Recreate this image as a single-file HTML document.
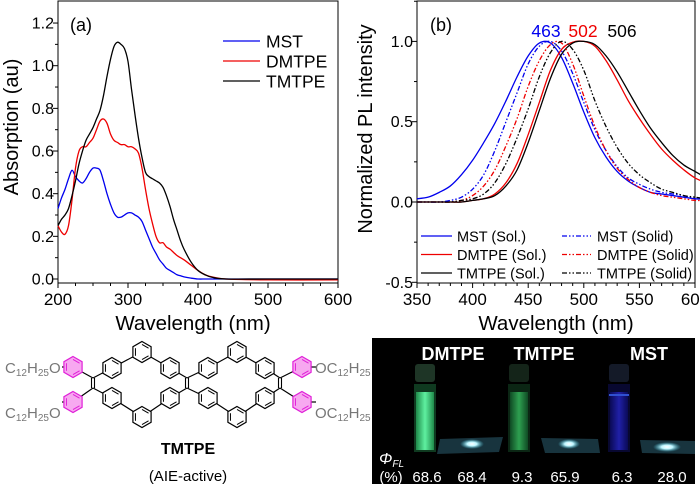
<!DOCTYPE html>
<html><head><meta charset="utf-8"><style>
html,body{margin:0;padding:0;background:#fff;}
svg{display:block;font-family:"Liberation Sans",Arial,sans-serif;}
</style></head><body>
<svg id="fig" width="700" height="485" viewBox="0 0 700 485">
<defs>
<linearGradient id="gvial" x1="0" x2="1"><stop offset="0" stop-color="#1f8a4a"/><stop offset="0.5" stop-color="#5ff0a0"/><stop offset="1" stop-color="#1f8a4a"/></linearGradient>
<linearGradient id="gvial2" x1="0" x2="1"><stop offset="0" stop-color="#0f4a24"/><stop offset="0.5" stop-color="#2ea050"/><stop offset="1" stop-color="#0f4a24"/></linearGradient>
<linearGradient id="bvial" x1="0" x2="1"><stop offset="0" stop-color="#0a0a55"/><stop offset="0.5" stop-color="#2020a8"/><stop offset="1" stop-color="#0a0a55"/></linearGradient>
<radialGradient id="glow"><stop offset="0" stop-color="#ffffff"/><stop offset="0.4" stop-color="#bff6ff"/><stop offset="1" stop-color="#3ab0c8" stop-opacity="0"/></radialGradient>
</defs>
<g id="chartA"></g>
<g id="chartB"></g>
<g id="mol"></g>
<g id="photo">
  <rect x="372" y="338" width="323" height="146" fill="#000"/>
  <text x="453" y="360" font-size="18" font-weight="bold" fill="#fff" text-anchor="middle">DMTPE</text>
  <text x="544" y="360" font-size="18" font-weight="bold" fill="#fff" text-anchor="middle">TMTPE</text>
  <text x="649" y="360" font-size="18" font-weight="bold" fill="#fff" text-anchor="middle">MST</text>
  <g>
    <rect x="415" y="364" width="20" height="18" rx="3" fill="#1e3526"/>
    <rect x="414" y="384" width="22" height="68" fill="#0f3a20"/>
    <rect x="416" y="392" width="18" height="58" fill="url(#gvial)"/>
  </g>
  <g>
    <rect x="509" y="364" width="20" height="18" rx="3" fill="#142419"/>
    <rect x="508" y="384" width="22" height="68" fill="#0b2614"/>
    <rect x="510" y="392" width="18" height="58" fill="url(#gvial2)"/>
  </g>
  <g>
    <rect x="609" y="364" width="20" height="18" rx="3" fill="#141a28"/>
    <rect x="608" y="384" width="22" height="68" fill="#080830"/>
    <rect x="610" y="392" width="18" height="58" fill="url(#bvial)"/>
    <rect x="609" y="394" width="20" height="2" fill="#3050d0"/>
  </g>
  <polygon points="440,439 503,437 499,452 437,454" fill="#18343e"/>
  <ellipse cx="472" cy="444" rx="12" ry="5" fill="url(#glow)"/>
  <polygon points="541,438 598,439 600,453 545,453" fill="#18343e"/>
  <ellipse cx="569" cy="444" rx="11" ry="5" fill="url(#glow)"/>
  <polygon points="640,440 695,441 695,454 642,453" fill="#18343e"/>
  <ellipse cx="667" cy="447" rx="14" ry="5" fill="url(#glow)"/>
  <text x="379" y="464" font-size="16" font-style="italic" fill="#fff">Φ<tspan font-size="10" dy="3">FL</tspan></text>
  <g font-size="15" fill="#fff" text-anchor="middle">
    <text x="391" y="482">(%)</text>
    <text x="427" y="482">68.6</text>
    <text x="472" y="482">68.4</text>
    <text x="522" y="482">9.3</text>
    <text x="565" y="482">65.9</text>
    <text x="622" y="482">6.3</text>
    <text x="672" y="482">28.0</text>
  </g>
</g>
</svg>
<script>
const NS="http://www.w3.org/2000/svg";
// ---- Chart (a) data ----
const absWl=[200,205,210,215,220,225,230,235,240,245,250,255,260,265,270,275,280,285,290,295,300,305,310,315,320,325,330,335,340,345,350,355,360,365,370,375,380,390,400,410,420,440,500,600];
const absMST=[0.33,0.38,0.42,0.47,0.51,0.48,0.46,0.45,0.47,0.50,0.52,0.52,0.51,0.46,0.40,0.35,0.31,0.29,0.29,0.30,0.31,0.31,0.30,0.29,0.27,0.23,0.19,0.15,0.12,0.09,0.07,0.05,0.04,0.03,0.02,0.015,0.01,0.004,0,0,0,0,0,0];
const absDMTPE=[0.25,0.22,0.21,0.25,0.37,0.52,0.60,0.62,0.62,0.64,0.66,0.70,0.74,0.75,0.73,0.68,0.65,0.64,0.63,0.63,0.62,0.62,0.61,0.59,0.52,0.42,0.33,0.26,0.20,0.17,0.17,0.15,0.14,0.125,0.11,0.10,0.09,0.065,0.04,0.02,0.01,0,-0.004,-0.004];
const absTMTPE=[0.25,0.28,0.30,0.33,0.39,0.46,0.54,0.60,0.65,0.68,0.71,0.75,0.79,0.86,0.95,1.03,1.09,1.11,1.10,1.08,1.02,0.89,0.77,0.66,0.57,0.50,0.48,0.47,0.46,0.45,0.43,0.39,0.34,0.28,0.23,0.18,0.14,0.08,0.04,0.02,0.008,0,0,0];
const absXTicks=[200,300,400,500,600];
const absYTicks=[0.0,0.2,0.4,0.6,0.8,1.0,1.2];
// ---- Chart (b) data ----
const plWl=[350,360,370,380,390,400,410,420,430,440,450,460,470,480,490,500,510,520,530,540,550,560,570,580,590,600,610];
const plMSTsol=[0.02,0.03,0.06,0.10,0.17,0.26,0.37,0.49,0.63,0.78,0.91,0.99,0.99,0.90,0.74,0.56,0.40,0.28,0.19,0.13,0.09,0.06,0.05,0.04,0.03,0.02,0.02];
const plDMTPEsol=[0,0,0,0,0,0.01,0.02,0.05,0.12,0.24,0.42,0.62,0.82,0.95,0.995,1.0,0.97,0.88,0.76,0.63,0.52,0.42,0.33,0.26,0.20,0.15,0.12];
const plTMTPEsol=[0,0,0,0,0,0.01,0.02,0.04,0.10,0.20,0.37,0.57,0.77,0.92,0.99,1.0,0.98,0.91,0.81,0.69,0.57,0.46,0.37,0.29,0.23,0.19,0.15];
const plMSTsolid=[0,0,0,0.01,0.03,0.08,0.17,0.32,0.50,0.68,0.86,0.97,1.0,0.94,0.80,0.62,0.45,0.32,0.22,0.15,0.11,0.08,0.06,0.05,0.04,0.02,0.02];
const plDMTPEsolid=[0,0,0,0,0.01,0.04,0.10,0.20,0.35,0.52,0.72,0.88,0.98,0.99,0.86,0.66,0.47,0.32,0.21,0.14,0.09,0.06,0.04,0.03,0.02,0.01,0.01];
const plTMTPEsolid=[0,0,0,0,0.01,0.02,0.05,0.12,0.24,0.40,0.58,0.78,0.93,1.0,0.95,0.82,0.63,0.47,0.34,0.24,0.17,0.12,0.08,0.06,0.04,0.03,0.02];
const plXTicks=[350,400,450,500,550,600];
const plYTicks=[-0.5,0.0,0.5,1.0];
const peakLabels=["463","502","506"];

function mk(tag,attrs,parent){const e=document.createElementNS(NS,tag);for(const k in attrs)e.setAttribute(k,attrs[k]);parent.appendChild(e);return e;}
function smooth(pts){let d="M"+pts[0][0].toFixed(2)+","+pts[0][1].toFixed(2);
 for(let i=0;i<pts.length-1;i++){const p0=pts[Math.max(0,i-1)],p1=pts[i],p2=pts[i+1],p3=pts[Math.min(pts.length-1,i+2)];
  const c1=[p1[0]+(p2[0]-p0[0])/6,p1[1]+(p2[1]-p0[1])/6],c2=[p2[0]-(p3[0]-p1[0])/6,p2[1]-(p3[1]-p1[1])/6];
  d+="C"+c1[0].toFixed(2)+","+c1[1].toFixed(2)+" "+c2[0].toFixed(2)+","+c2[1].toFixed(2)+" "+p2[0].toFixed(2)+","+p2[1].toFixed(2);}
 return d;}

// ===== Chart A =====
const A=document.getElementById('chartA');
const ax=v=>58+(v-200)*(280/400);
const ay=v=>279-v*213.3;
const boxA=mk('rect',{x:58,y:1,width:280,height:282,fill:'none',stroke:'#000','stroke-width':1},A);


for(let v=200;v<=600;v+=25){const maj=(v%100===0);mk('line',{x1:ax(v),x2:ax(v),y1:283,y2:283+(maj?5:3),stroke:'#000'},A);}
absXTicks.forEach(v=>{const t=mk('text',{x:ax(v),y:305,'font-size':17,'text-anchor':'middle'},A);t.textContent=v;
 
 });
for(let v=0;v<=1.2001;v+=0.1){const maj=Math.round(v*10)%2===0;mk('line',{x1:58,x2:58-(maj?5:3),y1:ay(v),y2:ay(v),stroke:'#000'},A);}
absYTicks.forEach(v=>{const t=mk('text',{x:54,y:ay(v)+5.5,'font-size':16,'text-anchor':'end'},A);t.textContent=v.toFixed(1);
 
 });
let t=mk('text',{x:193,y:330,'font-size':20.5,'text-anchor':'middle'},A);t.textContent="Wavelength (nm)";


t=mk('text',{x:0,y:0,'font-size':20,'text-anchor':'middle',transform:'translate(18,127) rotate(-90)'},A);t.textContent="Absorption (au)";


t=mk('text',{x:70,y:31,'font-size':18},A);t.textContent="(a)";


const seriesA=[[absMST,'#0000ee','MST'],[absDMTPE,'#ee0000','DMTPE'],[absTMTPE,'#000','TMTPE']];
seriesA.forEach((s,i)=>{const pts=absWl.map((w,j)=>[ax(w),ay(s[0][j])]);
 const p=mk('path',{d:smooth(pts),fill:'none',stroke:s[1],'stroke-width':1.3},A);
 
 
 const ly=41+i*20;
 const l=mk('line',{x1:223,x2:260,y1:ly,y2:ly,stroke:s[1],'stroke-width':1.3},A);
 
 
 const lt=mk('text',{x:266,y:ly+6.5,'font-size':17.5},A);lt.textContent=s[2];
 
 });

// ===== Chart B =====
const B=document.getElementById('chartB');
const bx=v=>417+(v-350)*(278/250);
const by=v=>202-v*160.6;
const boxB=mk('rect',{x:417,y:1,width:278,height:282,fill:'none',stroke:'#000','stroke-width':1},B);


for(let v=350;v<=610;v+=10){const maj=(v%50===0);mk('line',{x1:bx(v),x2:bx(v),y1:283,y2:283+(maj?5:3),stroke:'#000'},B);}
plXTicks.forEach(v=>{const e=mk('text',{x:bx(v),y:305,'font-size':17,'text-anchor':'middle'},B);e.textContent=v;
 
 });
for(let v=-0.5;v<=1.2501;v+=0.25){const maj=Math.abs(v*2-Math.round(v*2))<1e-6;mk('line',{x1:417,x2:417-(maj?5:3),y1:by(v),y2:by(v),stroke:'#000'},B);}
plYTicks.forEach(v=>{const e=mk('text',{x:413,y:by(v)+5.5,'font-size':16,'text-anchor':'end'},B);e.textContent=v.toFixed(1);
 
 });
t=mk('text',{x:556,y:330,'font-size':20.5,'text-anchor':'middle'},B);t.textContent="Wavelength (nm)";


t=mk('text',{x:0,y:0,'font-size':20,'text-anchor':'middle',transform:'translate(372,129) rotate(-90)'},B);t.textContent="Normalized PL intensity";


t=mk('text',{x:430,y:31,'font-size':18},B);t.textContent="(b)";


const peakCol=['#0000ee','#ee0000','#000'],peakX=[546,583,622];
peakLabels.forEach((s,i)=>{const e=mk('text',{x:peakX[i],y:37,'font-size':17.5,'text-anchor':'middle',fill:peakCol[i]},B);e.textContent=s;
 
 });
const dd='5,2,1.5,2,1.5,2';
const seriesB=[[plMSTsol,'#0000ee','',"MST (Sol.)"],[plDMTPEsol,'#ee0000','',"DMTPE (Sol.)"],[plTMTPEsol,'#000','',"TMTPE (Sol.)"],
 [plMSTsolid,'#0000ee',dd,"MST (Solid)"],[plDMTPEsolid,'#ee0000',dd,"DMTPE (Solid)"],[plTMTPEsolid,'#000',dd,"TMTPE (Solid)"]];
seriesB.forEach((s,i)=>{const pts=plWl.map((w,j)=>[bx(w),by(s[0][j])]);
 const a={d:smooth(pts),fill:'none',stroke:s[1],'stroke-width':1.3};if(s[2])a['stroke-dasharray']=s[2];
 const p=mk('path',a,B);
 
 
 const col=i<3?0:1,row=i%3,ly=236+row*18.5;
 const lx1=col?562:421,lx2=col?591:452,tx=col?597:457;
 const la={x1:lx1,x2:lx2,y1:ly,y2:ly,stroke:s[1],'stroke-width':1.3};if(s[2])la['stroke-dasharray']=s[2];
 const l=mk('line',la,B);
 
 
 const lt=mk('text',{x:tx,y:ly+5.5,'font-size':14.5},B);lt.textContent=s[3];
 
 });

// ===== Molecule =====
const M=document.getElementById('mol');
const bonds=[[[73,367],[93,378]],[[73,402],[93,388]],[[93,378],[112,368]],[[93,388],[112,398]],[[112,368],[142,352]],[[142,352],[170,368]],[[170,368],[187,378]],[[187,388],[170,398]],[[170,398],[142,417]],[[142,417],[112,398]],[[187,378],[208,368]],[[208,368],[237,352]],[[237,352],[265,368]],[[265,368],[280,378]],[[280,388],[265,398]],[[265,398],[237,417]],[[237,417],[208,398]],[[208,398],[187,388]],[[280,378],[302,367]],[[280,388],[302,402]],[[62,367],[73,367]],[[62,402],[73,402]],[[302,367],[316,367]],[[302,402],[316,402]]];
bonds.forEach(b=>mk('line',{x1:b[0][0],y1:b[0][1],x2:b[1][0],y2:b[1][1],stroke:'#000','stroke-width':1.2},M));
[[93,378,93,388],[187,378,187,388],[280,378,280,388]].forEach(b=>{mk('line',{x1:b[0]-1.5,y1:b[1],x2:b[2]-1.5,y2:b[3],stroke:'#000','stroke-width':1.1},M);mk('line',{x1:b[0]+1.5,y1:b[1],x2:b[2]+1.5,y2:b[3],stroke:'#000','stroke-width':1.1},M);});
function hexPts(cx,cy,r){const p=[];for(let k=0;k<6;k++){const a=(-90+60*k)*Math.PI/180;p.push([cx+r*Math.cos(a),cy+r*Math.sin(a)]);}return p;}
function ring(cx,cy,pink){const r=10.5,p=hexPts(cx,cy,r);
 const g=mk('polygon',{points:p.map(q=>q.join(',')).join(' '),fill:pink?'#f7a8f0':'#fff',stroke:pink?'#e020d8':'#000','stroke-width':1.2},M);
 
 
 const q=hexPts(cx,cy,r*0.72);
 for(let k=0;k<6;k+=2){mk('line',{x1:q[k][0],y1:q[k][1],x2:q[k+1][0],y2:q[k+1][1],stroke:pink?'#e020d8':'#000','stroke-width':1},M);}}
[[112,368],[142,352],[170,368],[208,368],[237,352],[265,368],[112,398],[142,417],[170,398],[208,398],[237,417],[265,398]].forEach(c=>ring(c[0],c[1],false));
[[73,367],[73,402],[302,367],[302,402]].forEach(c=>ring(c[0],c[1],true));
[373,418].forEach(y=>{const e=mk('text',{x:5,y:y,'font-size':15,fill:'#777'},M);
 e.innerHTML='C<tspan font-size="10" dy="3">12</tspan><tspan dy="-3">H</tspan><tspan font-size="10" dy="3">25</tspan><tspan dy="-3">O</tspan>';
 
 });
[373,418].forEach(y=>{const e=mk('text',{x:315,y:y,'font-size':15,fill:'#777'},M);
 e.innerHTML='OC<tspan font-size="10" dy="3">12</tspan><tspan dy="-3">H</tspan><tspan font-size="10" dy="3">25</tspan>';
 
 });
t=mk('text',{x:188,y:454,'font-size':16,'font-weight':'bold','text-anchor':'middle'},M);t.textContent="TMTPE";


t=mk('text',{x:188,y:481,'font-size':15,'text-anchor':'middle'},M);t.textContent="(AIE-active)";


</script>
</body></html>
